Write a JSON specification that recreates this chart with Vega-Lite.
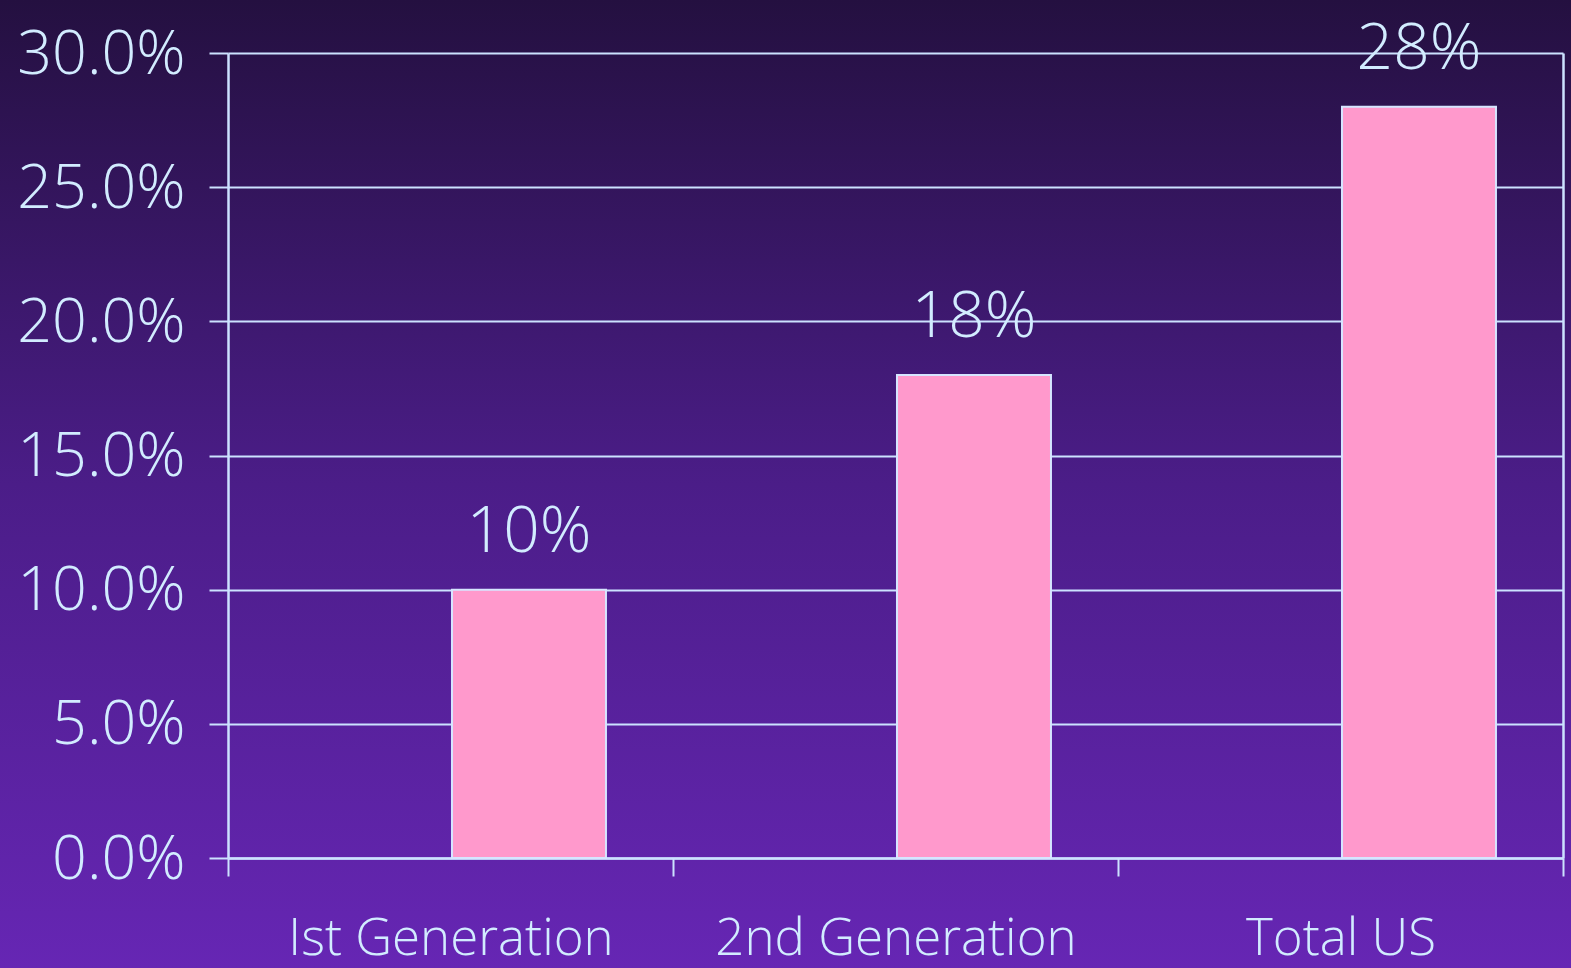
{
  "$schema": "https://vega.github.io/schema/vega-lite/v6.json",
  "width": 1571,
  "height": 968,
  "autosize": "none",
  "padding": 0,
  "background": "#251042",
  "view": {
    "stroke": null,
    "fill": {
      "gradient": "linear",
      "x1": 0, "y1": 0, "x2": 0, "y2": 1,
      "stops": [
        {"offset": 0, "color": "#241040"},
        {"offset": 0.5, "color": "#4b1d88"},
        {"offset": 1, "color": "#6626b4"}
      ]
    }
  },
  "config": {
    "font": "Open Sans, Noto Sans, sans-serif"
  },
  "data": {
    "values": [
      {"category": "Ist Generation", "series": "B", "value": 0.10, "label": "10%"},
      {"category": "2nd Generation", "series": "B", "value": 0.18, "label": "18%"},
      {"category": "Total US", "series": "B", "value": 0.28, "label": "28%"}
    ]
  },
  "encoding": {
    "x": {
      "field": "category",
      "type": "nominal",
      "sort": ["Ist Generation", "2nd Generation", "Total US"],
      "scale": {"range": [228, 1563], "paddingInner": 0, "paddingOuter": 0},
      "axis": {
        "orient": "bottom",
        "offset": -110,
        "title": null,
        "labelAngle": 0,
        "labelFont": "Open Sans, Noto Sans, sans-serif",
        "labelFontWeight": 300,
        "labelFontSize": 51,
        "labelColor": "#d2ecff",
        "labelBaseline": "top",
        "labelPadding": 38,
        "labelLimit": 600,
        "tickBand": "extent",
        "tickSize": 18,
        "tickWidth": 2,
        "tickColor": "#cce2ff",
        "domainColor": "#cce2ff",
        "domainWidth": 2.5,
        "grid": false
      }
    },
    "xOffset": {
      "field": "series",
      "type": "nominal",
      "scale": {"domain": ["A", "B"], "paddingInner": 0.019, "paddingOuter": 0.427}
    },
    "y": {
      "field": "value",
      "type": "quantitative",
      "scale": {"domain": [0, 0.3], "range": [858, 53], "nice": false, "zero": true}
    }
  },
  "layer": [
    {
      "mark": {"type": "bar", "fill": "#ff99cc", "stroke": "#d6e6ff", "strokeWidth": 2},
      "encoding": {
        "y": {
          "field": "value",
          "type": "quantitative",
          "axis": {
            "orient": "left",
            "offset": -228,
            "title": null,
            "values": [0, 0.05, 0.1, 0.15, 0.2, 0.25, 0.3],
            "format": ".1%",
            "labelFont": "Open Sans, Noto Sans, sans-serif",
            "labelFontWeight": 300,
            "labelFontSize": 61,
            "labelColor": "#d2ecff",
            "labelPadding": 24,
            "labelOffset": 2,
            "tickSize": 19,
            "tickWidth": 2,
            "tickColor": "#cce2ff",
            "domainColor": "#cce2ff",
            "domainWidth": 2.5,
            "grid": true,
            "gridColor": "#cce2ff",
            "gridWidth": 2,
            "gridOpacity": 1
          }
        }
      }
    },
    {
      "mark": {
        "type": "text",
        "font": "Open Sans, Noto Sans, sans-serif",
        "fontWeight": 300,
        "fontSize": 64,
        "color": "#d2ecff",
        "align": "center",
        "baseline": "alphabetic",
        "dy": -38
      },
      "encoding": {
        "text": {"field": "label"},
        "y": {
          "field": "value",
          "type": "quantitative",
          "axis": {
            "orient": "right",
            "offset": -8,
            "title": null,
            "labels": false,
            "ticks": false,
            "grid": false,
            "domainColor": "#cce2ff",
            "domainWidth": 2.5
          }
        }
      }
    }
  ],
  "resolve": {"axis": {"y": "independent"}}
}
